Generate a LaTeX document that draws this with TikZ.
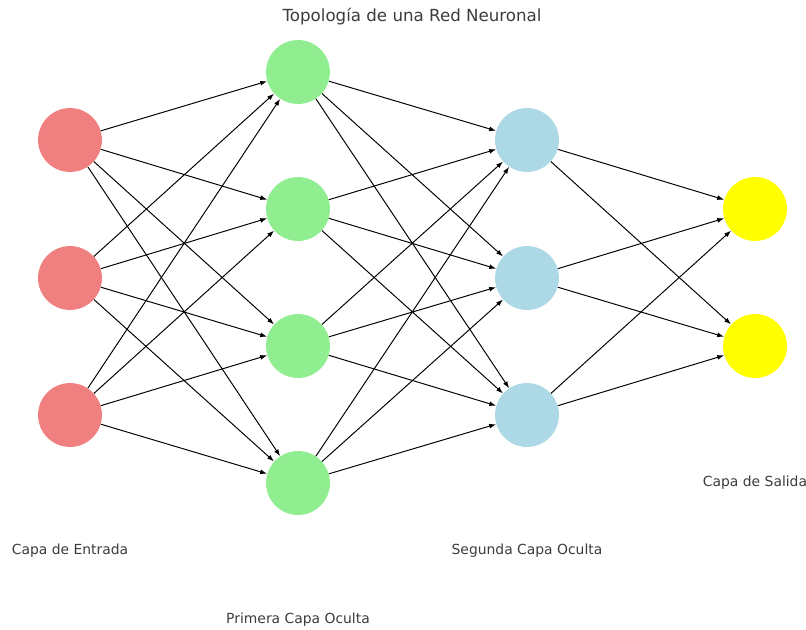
\documentclass[tikz,border=0pt]{standalone}
\usepackage{fontspec}
\setmainfont{DejaVu Sans}
\usepackage{xcolor}
\definecolor{mycoral}{RGB}{240,128,128}
\definecolor{mygreen}{RGB}{144,238,144}
\definecolor{myblue}{RGB}{173,216,230}
\definecolor{myyellow}{RGB}{255,255,0}
\definecolor{labelgray}{RGB}{60,60,60}
\usepackage{tikz}
\usetikzlibrary{arrows.meta}
\tikzset{
    neuron/.style={circle, minimum size=46pt, inner sep=0pt},
    in-neuron/.style={neuron, fill=mycoral},
    hid-neuron-1/.style={neuron, fill=mygreen},
    hid-neuron-2/.style={neuron, fill=myblue},
    out-neuron/.style={neuron, fill=myyellow},
    conn/.style={-{Latex[length=5pt,width=3.5pt]}, line width=0.7pt},
    layer-label/.style={text=labelgray, font=\fontsize{10}{12}\selectfont},
    title-label/.style={text=labelgray, font=\fontsize{12}{14}\selectfont}
}

\begin{document}
\begin{tikzpicture}[x=0.72pt, y=-0.72pt]
    \useasboundingbox (0,0) rectangle (806,629);

    % neurons of each layer
    \foreach \n/\y in {1/140, 2/278, 3/415}
        \node[in-neuron] (in\n) at (70,\y) {};
    \foreach \n/\y in {1/72, 2/209, 3/346, 4/483}
        \node[hid-neuron-1] (ha\n) at (298,\y) {};
    \foreach \n/\y in {1/140, 2/278, 3/415}
        \node[hid-neuron-2] (hb\n) at (527,\y) {};
    \foreach \n/\y in {1/209, 2/346}
        \node[out-neuron] (out\n) at (755,\y) {};

    % connections
    \foreach \a in {1,...,3}
        \foreach \b in {1,...,4}
            \draw[conn] (in\a) -- (ha\b);
    \foreach \a in {1,...,4}
        \foreach \b in {1,...,3}
            \draw[conn] (ha\a) -- (hb\b);
    \foreach \a in {1,...,3}
        \foreach \b in {1,...,2}
            \draw[conn] (hb\a) -- (out\b);

    % labels
    \node[title-label] (title) at (412,17) {Topología de una Red Neuronal};
    \node[layer-label] (lbl-in) at (70,551) {Capa de Entrada};
    \node[layer-label] (lbl-ha) at (298,620) {Primera Capa Oculta};
    \node[layer-label] (lbl-hb) at (527,551) {Segunda Capa Oculta};
    \node[layer-label] (lbl-out) at (755,483) {Capa de Salida};
\end{tikzpicture}
\end{document}
